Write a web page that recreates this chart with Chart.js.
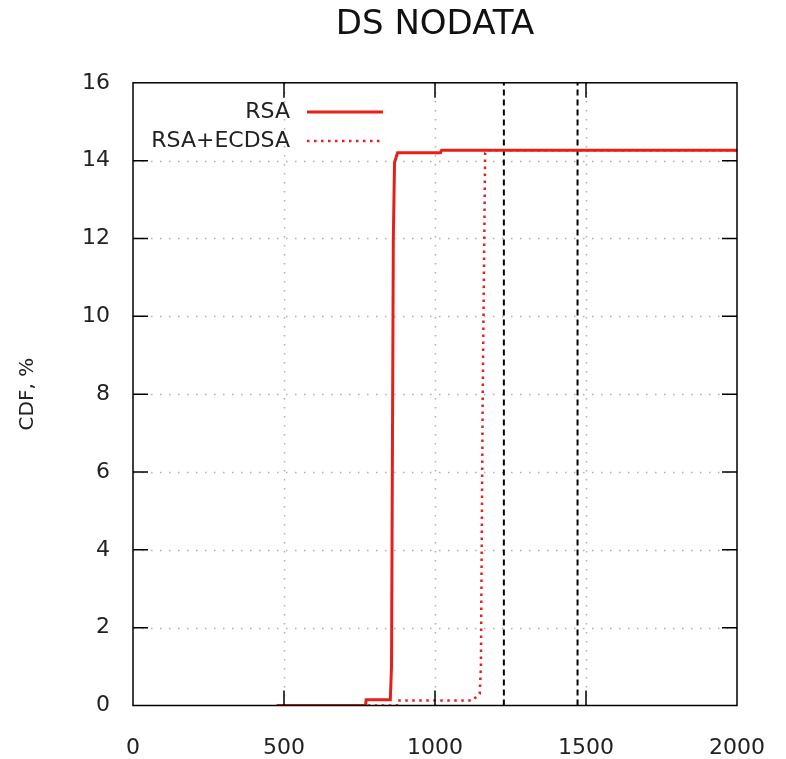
<!DOCTYPE html>
<html>
<head>
<meta charset="utf-8">
<title>DS NODATA</title>
<script src="https://cdn.jsdelivr.net/npm/chart.js@4.4.1/dist/chart.umd.min.js"></script>
<style>
  html, body { margin: 0; padding: 0; background: #fff; }
</style>
</head>
<body>
<canvas id="cdfChart" width="786" height="759"></canvas>
<script>
// values
const rsaX = [476, 770, 772, 852, 856, 862, 866, 876, 1018, 1022, 2000];
const rsaY = [0, 0, 0.15, 0.15, 1, 12, 13.95, 14.2, 14.2, 14.27, 14.27];

const ecdsaX = [476, 874, 876, 1126, 1136, 1148, 1152, 1158, 1166, 1172, 2000];
const ecdsaY = [0, 0, 0.13, 0.13, 0.22, 0.3, 1, 8, 14.2, 14.27, 14.27];

const markerX = [1228, 1472]; // black dashed vertical lines
const seriesLabels = ["RSA", "RSA+ECDSA"];

const xRange = [0, 2000];
const yRange = [0, 16];
const xStep = 500;
const yStep = 2;

const RED = "rgb(230,32,25)";
const FONT = "'DejaVu Sans', sans-serif";

const toPoints = (xs, ys) => xs.map((x, i) => ({ x: x, y: ys[i] }));

const markerSets = markerX.map((x) => ({
  label: "",
  data: [{ x: x, y: yRange[0] }, { x: x, y: yRange[1] }],
  borderColor: "#000",
  borderWidth: 2,
  borderDash: [6, 4],
  pointRadius: 0,
  showLine: true,
  isMarker: true,
}));

// gnuplot-like frame: dotted grid, box border, inward ticks, legend
const gnuplotFrame = {
  id: "gnuplotFrame",
  beforeDatasetsDraw(chart) {
    const { ctx, chartArea: a, scales } = chart;
    ctx.save();
    ctx.strokeStyle = "#b0b0b0";
    ctx.lineWidth = 1.5;
    ctx.setLineDash([1.5, 7.5]);
    for (let v = xRange[0] + xStep; v < xRange[1]; v += xStep) {
      const px = Math.round(scales.x.getPixelForValue(v)) + 0.5;
      ctx.beginPath();
      ctx.moveTo(px, a.bottom);
      ctx.lineTo(px, a.top);
      ctx.stroke();
    }
    for (let v = yRange[0] + yStep; v < yRange[1]; v += yStep) {
      const py = Math.round(scales.y.getPixelForValue(v)) + 0.5;
      ctx.beginPath();
      ctx.moveTo(a.left, py);
      ctx.lineTo(a.right, py);
      ctx.stroke();
    }
    ctx.restore();
  },
  afterDatasetsDraw(chart) {
    const { ctx, chartArea: a, scales } = chart;
    const tick = 15;
    ctx.save();
    ctx.strokeStyle = "#000";
    ctx.lineWidth = 1.5;
    ctx.setLineDash([]);
    ctx.strokeRect(a.left, a.top, a.right - a.left, a.bottom - a.top);
    ctx.beginPath();
    for (let v = xRange[0] + xStep; v < xRange[1]; v += xStep) {
      const px = scales.x.getPixelForValue(v);
      ctx.moveTo(px, a.bottom);
      ctx.lineTo(px, a.bottom - tick);
      ctx.moveTo(px, a.top);
      ctx.lineTo(px, a.top + tick);
    }
    for (let v = yRange[0] + yStep; v < yRange[1]; v += yStep) {
      const py = scales.y.getPixelForValue(v);
      ctx.moveTo(a.left, py);
      ctx.lineTo(a.left + tick, py);
      ctx.moveTo(a.right, py);
      ctx.lineTo(a.right - tick, py);
    }
    ctx.stroke();

    // legend, text right aligned with the line sample after it
    ctx.font = "22px " + FONT;
    ctx.fillStyle = "#222";
    ctx.textAlign = "right";
    ctx.textBaseline = "middle";
    const rows = [112, 141];
    chart.data.datasets.filter((d) => !d.isMarker).forEach((d, i) => {
      ctx.fillText(d.label, 290, rows[i]);
      ctx.strokeStyle = d.borderColor;
      ctx.lineWidth = d.borderWidth;
      ctx.setLineDash(d.borderDash || []);
      ctx.beginPath();
      ctx.moveTo(307, rows[i]);
      ctx.lineTo(383, rows[i]);
      ctx.stroke();
    });
    ctx.restore();
  },
};

new Chart(document.getElementById("cdfChart"), {
  type: "scatter",
  data: {
    datasets: [
      {
        label: seriesLabels[0],
        data: toPoints(rsaX, rsaY),
        borderColor: RED,
        borderWidth: 3,
        pointRadius: 0,
        showLine: true,
      },
      {
        label: seriesLabels[1],
        data: toPoints(ecdsaX, ecdsaY),
        borderColor: RED,
        borderWidth: 2.5,
        borderDash: [2.5, 4.5],
        pointRadius: 0,
        showLine: true,
      },
      ...markerSets,
    ],
  },
  options: {
    responsive: false,
    animation: false,
    devicePixelRatio: 1,
    layout: { padding: { left: 0, right: 49, top: 0, bottom: 0 } },
    plugins: {
      legend: { display: false },
      tooltip: { enabled: false },
      title: {
        display: true,
        fullSize: false,
        text: "DS NODATA",
        color: "#111",
        font: { family: FONT, size: 34, weight: "normal" },
        padding: { top: 5, bottom: 37 },
      },
    },
    scales: {
      x: {
        type: "linear",
        min: xRange[0],
        max: xRange[1],
        grid: { display: false, drawTicks: false },
        border: { display: false },
        ticks: {
          stepSize: xStep,
          color: "#222",
          padding: 30,
          maxRotation: 0,
          font: { family: FONT, size: 22 },
          callback: (v) => String(v),
        },
        afterFit: (s) => {
          s.height = 53.5;
          s.paddingLeft = 0;
          s.paddingRight = 0;
        },
      },
      y: {
        min: yRange[0],
        max: yRange[1],
        grid: { display: false, drawTicks: false },
        border: { display: false },
        ticks: {
          stepSize: yStep,
          color: "#222",
          padding: 23,
          font: { family: FONT, size: 22 },
        },
        title: {
          display: true,
          text: "CDF, %",
          color: "#222",
          font: { family: FONT, size: 20 },
          padding: { top: 16, bottom: 0 },
        },
        afterFit: (s) => { s.width = 133; },
      },
    },
  },
  plugins: [gnuplotFrame],
});
</script>
</body>
</html>
